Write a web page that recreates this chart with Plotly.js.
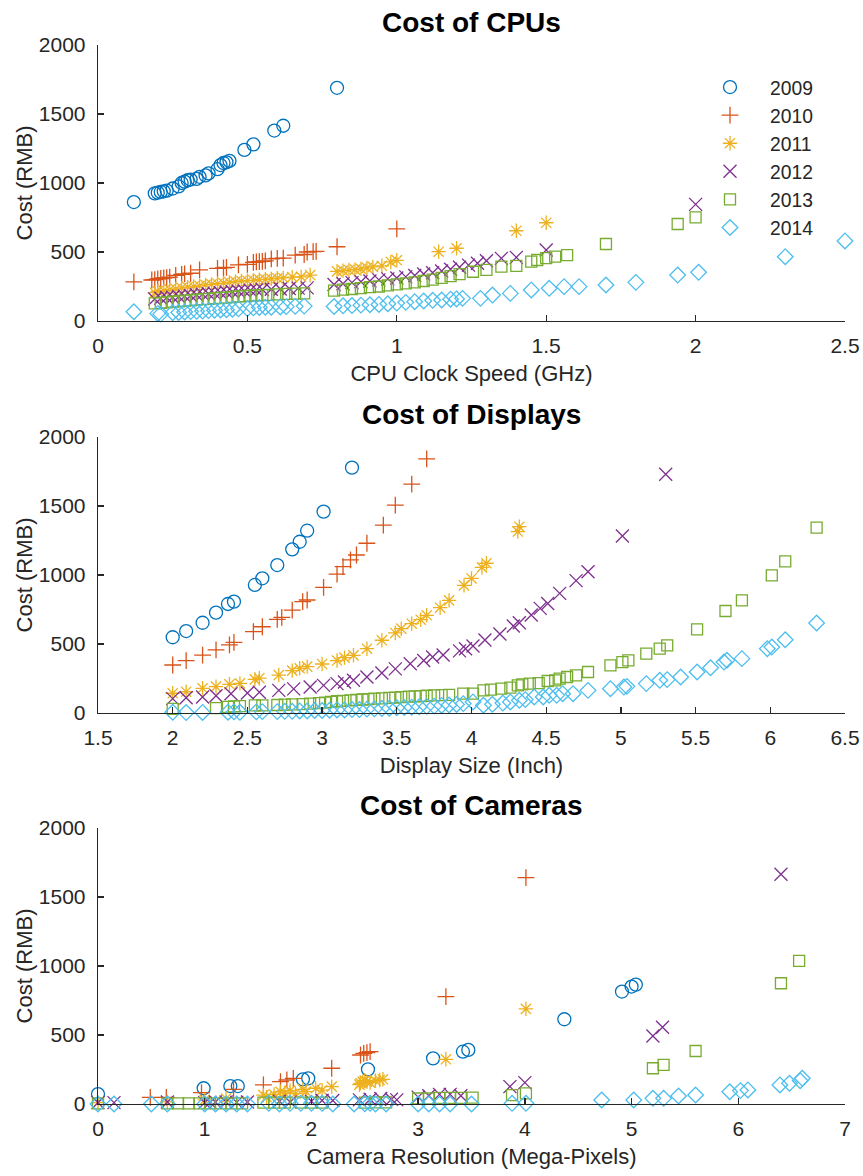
<!DOCTYPE html>
<html>
<head>
<meta charset="utf-8">
<script src="https://cdn.plot.ly/plotly-3.0.1.min.js"></script>
<style>html,body{margin:0;padding:0;background:#fff;}#chart{width:863px;height:1176px;}</style>
</head>
<body>
<div id="chart"></div>
<script>
// ---------- DATA ----------
var years = ["2009","2010","2011","2012","2013","2014"];

var cpuX2009 = [0.12,0.19,0.20,0.21,0.22,0.23,0.25,0.27,0.28,0.29,0.30,0.31,0.33,0.34,0.36,0.37,0.40,0.41,0.42,0.43,0.44,0.49,0.52,0.59,0.62,0.80];
var cpuY2009 = [862,925,930,935,940,945,960,975,1000,1010,1020,1025,1030,1045,1055,1070,1100,1130,1145,1150,1160,1240,1280,1380,1415,1690];
var cpuX2010 = [0.12,0.18,0.19,0.20,0.21,0.22,0.23,0.24,0.26,0.28,0.29,0.31,0.34,0.40,0.42,0.43,0.47,0.50,0.52,0.53,0.54,0.55,0.56,0.58,0.60,0.62,0.66,0.69,0.70,0.72,0.73,0.80,1.00];
var cpuY2010 = [283,297,300,305,308,312,315,318,330,338,342,346,370,382,385,388,406,410,425,428,430,432,435,450,454,456,478,482,500,502,505,538,667];
var cpuX2011 = [0.19,0.20,0.22,0.24,0.26,0.28,0.30,0.32,0.34,0.36,0.38,0.40,0.42,0.44,0.46,0.48,0.50,0.52,0.54,0.56,0.58,0.60,0.62,0.65,0.68,0.71,0.80,0.82,0.84,0.86,0.88,0.90,0.92,0.95,0.98,1.00,1.14,1.20,1.40,1.50];
var cpuY2011 = [205,215,220,228,232,240,245,250,255,262,265,270,275,280,285,290,292,295,300,302,305,310,312,318,320,333,360,365,370,372,378,385,392,400,428,440,502,527,654,712];
var cpuX2012 = [0.19,0.21,0.23,0.25,0.27,0.29,0.31,0.33,0.35,0.37,0.39,0.41,0.43,0.45,0.47,0.49,0.51,0.53,0.55,0.58,0.61,0.64,0.67,0.70,0.79,0.82,0.85,0.88,0.91,0.94,0.97,1.00,1.03,1.06,1.09,1.12,1.15,1.18,1.21,1.24,1.27,1.30,1.35,1.40,1.50,2.00];
var cpuY2012 = [160,165,170,172,178,180,185,190,195,198,200,205,208,212,215,218,222,225,228,230,232,235,238,240,265,270,278,285,290,298,305,312,320,330,340,350,362,375,390,405,418,437,454,461,514,845];
var cpuX2013 = [0.19,0.21,0.23,0.25,0.27,0.29,0.31,0.33,0.35,0.37,0.39,0.41,0.43,0.45,0.47,0.49,0.51,0.53,0.55,0.57,0.60,0.63,0.66,0.69,0.79,0.82,0.85,0.88,0.91,0.94,0.97,1.00,1.03,1.06,1.09,1.12,1.15,1.18,1.21,1.255,1.30,1.35,1.40,1.45,1.47,1.50,1.53,1.57,1.70,1.94,2.00];
var cpuY2013 = [128,132,135,140,143,148,150,155,158,160,165,168,170,175,178,180,183,185,188,190,193,196,198,200,220,228,232,238,245,250,258,265,272,280,290,300,312,325,340,357,370,394,400,430,442,456,466,478,558,703,751];
var cpuX2014 = [0.12,0.20,0.21,0.25,0.27,0.29,0.31,0.33,0.35,0.37,0.39,0.41,0.43,0.45,0.47,0.50,0.52,0.54,0.56,0.58,0.61,0.63,0.66,0.69,0.79,0.82,0.85,0.88,0.91,0.94,0.97,1.00,1.03,1.06,1.09,1.12,1.15,1.18,1.20,1.22,1.28,1.32,1.38,1.45,1.51,1.56,1.61,1.70,1.80,1.94,2.01,2.30,2.50];
var cpuY2014 = [67,55,50,60,62,65,68,70,72,75,78,80,82,85,88,90,95,98,100,100,102,104,106,108,105,110,112,115,118,120,125,130,135,140,145,150,152,158,160,164,164,188,200,225,237,249,249,261,280,333,353,466,580];

var dispX2009 = [2.00,2.09,2.20,2.29,2.37,2.41,2.55,2.60,2.70,2.80,2.85,2.90,3.01,3.20];
var dispY2009 = [549,594,654,727,790,807,928,976,1072,1186,1241,1321,1459,1778];
var dispX2010 = [2.00,2.09,2.20,2.29,2.38,2.41,2.54,2.60,2.70,2.73,2.80,2.87,2.90,3.01,3.10,3.14,3.19,3.23,3.30,3.41,3.49,3.60,3.70];
var dispY2010 = [348,379,420,457,493,512,589,625,679,693,746,807,819,911,1007,1060,1109,1145,1230,1362,1507,1659,1841];
var dispX2011 = [2.00,2.09,2.20,2.29,2.38,2.45,2.55,2.58,2.71,2.80,2.85,2.90,3.00,3.10,3.15,3.21,3.30,3.40,3.49,3.53,3.60,3.66,3.70,3.79,3.85,3.95,4.00,4.07,4.10,4.31,4.32];
var dispY2011 = [143,154,179,191,208,215,244,252,275,307,324,336,355,380,401,418,466,527,580,611,647,676,708,763,816,925,975,1055,1085,1315,1350];
var dispX2012 = [2.00,2.09,2.20,2.29,2.39,2.50,2.58,2.71,2.81,2.92,3.01,3.10,3.15,3.21,3.30,3.40,3.49,3.59,3.68,3.74,3.81,3.92,3.96,4.01,4.09,4.19,4.28,4.32,4.40,4.46,4.51,4.59,4.70,4.78,5.01,5.30];
var dispY2012 = [104,110,116,125,140,145,150,164,175,188,200,213,225,237,261,290,320,357,380,406,420,450,466,485,529,572,630,654,710,758,794,867,959,1024,1283,1730];
var dispX2013 = [2.00,2.29,2.37,2.41,2.45,2.55,2.60,2.70,2.75,2.80,2.87,2.92,2.98,3.02,3.06,3.10,3.14,3.19,3.23,3.27,3.31,3.35,3.40,3.45,3.49,3.53,3.58,3.62,3.66,3.70,3.75,3.80,3.85,3.945,4.01,4.08,4.13,4.20,4.26,4.31,4.34,4.39,4.45,4.51,4.56,4.59,4.64,4.70,4.78,4.93,5.01,5.05,5.17,5.26,5.31,5.51,5.70,5.81,6.01,6.10,6.31];
var dispY2013 = [30,35,45,48,50,55,55,58,60,62,65,68,72,75,80,85,88,92,95,98,100,104,106,110,112,115,118,120,123,125,128,130,132,140,140,164,169,176,184,200,208,213,217,232,237,249,261,273,297,345,369,382,430,466,490,606,739,816,997,1099,1343];
var dispX2014 = [2.00,2.09,2.20,2.37,2.41,2.45,2.56,2.60,2.70,2.75,2.80,2.85,2.90,2.95,3.00,3.05,3.10,3.15,3.20,3.25,3.30,3.35,3.40,3.45,3.50,3.55,3.60,3.65,3.70,3.75,3.80,3.85,3.90,3.945,4.01,4.08,4.14,4.21,4.26,4.32,4.36,4.42,4.48,4.52,4.57,4.61,4.68,4.78,4.93,5.02,5.04,5.17,5.26,5.31,5.40,5.51,5.60,5.69,5.71,5.81,5.98,6.01,6.10,6.31];
var dispY2014 = [5,3,4,6,8,5,8,10,10,12,12,15,15,18,18,20,22,22,25,25,28,30,32,35,38,40,42,45,48,50,55,58,62,68,80,56,63,72,80,92,97,116,116,128,128,140,140,164,176,188,193,213,237,242,261,297,328,369,382,394,466,478,531,652];

var camX2009 = [0.00,0.99,1.24,1.31,1.92,1.97,2.53,3.14,3.42,3.47,4.37,4.91,5.00,5.04];
var camY2009 = [72,114,130,130,179,186,251,331,379,392,614,815,851,865];
var camX2010 = [0.49,0.64,0.97,1.27,1.55,1.71,1.77,1.83,2.19,2.46,2.49,2.52,2.55,3.26,4.01];
var camY2010 = [48,48,82,106,138,162,174,186,259,355,367,372,379,778,1641];
var camX2011 = [0.00,0.65,1.00,1.20,1.55,1.58,1.65,1.71,1.75,1.80,1.85,1.92,1.95,2.04,2.10,2.19,2.45,2.46,2.48,2.50,2.52,2.55,2.60,2.64,2.67,3.26,4.01];
var camY2011 = [10,15,30,40,65,50,70,89,80,97,75,106,90,114,100,126,140,150,160,170,162,155,170,174,179,324,689];
var camX2012 = [0.00,0.15,0.65,1.00,1.05,1.10,1.20,1.30,1.40,1.70,1.80,2.00,2.10,2.20,2.45,2.55,2.65,2.75,2.80,3.00,3.10,3.20,3.30,3.40,3.86,4.00,5.20,5.29,6.40];
var camY2012 = [10,10,15,10,12,15,15,12,15,20,15,20,25,25,30,35,40,35,30,50,60,70,70,60,126,155,493,556,1665];
var camX2013 = [0.00,0.65,0.75,0.85,0.95,1.05,1.15,1.25,1.35,1.55,1.65,1.75,1.90,2.00,2.10,2.50,2.60,2.70,3.00,3.10,3.20,3.30,3.40,3.51,3.88,4.01,5.20,5.30,5.60,6.40,6.57];
var camY2013 = [5,5,5,5,5,5,5,5,5,10,10,10,10,10,10,10,12,12,40,40,45,45,45,46,65,77,259,283,384,875,1037];
var camX2014 = [0.00,0.15,0.50,0.65,1.00,1.10,1.20,1.30,1.40,1.60,1.70,1.80,1.90,2.00,2.10,2.20,2.40,2.50,2.55,2.60,2.70,3.00,3.10,3.20,3.30,3.50,3.88,4.01,4.72,5.02,5.20,5.30,5.44,5.60,5.92,6.02,6.09,6.39,6.48,6.58,6.60];
var camY2014 = [0,0,0,0,0,0,0,0,0,5,0,5,5,5,5,0,0,2,5,0,0,0,0,0,0,0,5,5,29,29,41,41,58,65,89,97,102,138,150,169,186];

var titles = ["Cost of CPUs","Cost of Displays","Cost of Cameras"];
var xTitles = ["CPU Clock Speed (GHz)","Display Size (Inch)","Camera Resolution (Mega-Pixels)"];
var yTitle = "Cost (RMB)";

// ---------- STYLE ----------
var FONT = "Liberation Sans, Arial, Helvetica, sans-serif";
var styles = {
  "2009": {symbol:"circle-open", size:13, color:"#0072BD"},
  "2010": {symbol:"cross-thin-open", size:12, color:"#D95319"},
  "2011": {symbol:"asterisk-open", size:12, color:"#EDB120"},
  "2012": {symbol:"x-thin-open", size:13, color:"#7E2F8E"},
  "2013": {symbol:"square-open", size:11, color:"#77AC30"},
  "2014": {symbol:"diamond-open", size:12, color:"#4DBEEE"}
};

var sets = [
  [[cpuX2009,cpuY2009],[cpuX2010,cpuY2010],[cpuX2011,cpuY2011],[cpuX2012,cpuY2012],[cpuX2013,cpuY2013],[cpuX2014,cpuY2014]],
  [[dispX2009,dispY2009],[dispX2010,dispY2010],[dispX2011,dispY2011],[dispX2012,dispY2012],[dispX2013,dispY2013],[dispX2014,dispY2014]],
  [[camX2009,camY2009],[camX2010,camY2010],[camX2011,camY2011],[camX2012,camY2012],[camX2013,camY2013],[camX2014,camY2014]]
];

var traces = [];
sets.forEach(function(set, p){
  set.forEach(function(xy, i){
    var st = styles[years[i]];
    traces.push({
      type:"scatter", mode:"markers", x:xy[0], y:xy[1],
      name:years[i], showlegend:(p===0),
      xaxis:"x"+(p===0?"":(p+1)), yaxis:"y"+(p===0?"":(p+1)),
      cliponaxis:false,
      marker:{symbol:st.symbol, size:st.size, color:st.color, line:{color:st.color, width:1.3}},
      hoverinfo:"x+y"
    });
  });
});

var W = 863, H = 1176;
var xDom = [98/W, 845/W];
var yDoms = [[1-321/H, 1-45/H],[1-713/H, 1-437/H],[1-1104/H, 1-828/H]];
var xRanges = [[0,2.5],[1.5,6.5],[0,7]];
var xDticks = [0.5,0.5,1];

function axisBase(){
  return {
    showline:true, linecolor:"#262626", linewidth:1.3,
    ticks:"inside", ticklen:6, tickwidth:1.3, tickcolor:"#262626",
    showgrid:false, zeroline:false, mirror:false,
    tickfont:{family:FONT, size:21, color:"#262626"},
    fixedrange:true
  };
}

var layout = {
  width:W, height:H,
  margin:{l:0,r:0,t:0,b:0},
  paper_bgcolor:"#ffffff", plot_bgcolor:"#ffffff",
  font:{family:FONT, color:"#262626"},
  showlegend:true,
  legend:{x:690/W, y:1-68/H, xanchor:"left", yanchor:"top", bgcolor:"rgba(0,0,0,0)",
          font:{family:FONT, size:19.3, color:"#262626"}, itemwidth:70, borderwidth:0, tracegroupgap:0},
  annotations:[]
};

for (var p=0;p<3;p++){
  var sx = p===0?"":(p+1);
  var xa = axisBase();
  xa.domain = xDom; xa.range = xRanges[p]; xa.dtick = xDticks[p]; xa.tick0 = 0;
  xa.anchor = "y"+sx;
  xa.ticklabelstandoff = 5;
  xa.title = {text:xTitles[p], font:{family:FONT, size:22, color:"#262626"}, standoff:10};
  var ya = axisBase();
  ya.domain = yDoms[p]; ya.range = [0,2000]; ya.dtick = 500; ya.tick0 = 0;
  ya.anchor = "x"+sx;
  ya.ticklabelstandoff = 7;
  ya.title = {text:yTitle, font:{family:FONT, size:22, color:"#262626"}, standoff:0};
  layout["xaxis"+sx] = xa;
  layout["yaxis"+sx] = ya;
  layout.annotations.push({
    text:"<b>"+titles[p]+"</b>", xref:"paper", yref:"paper",
    x:(xDom[0]+xDom[1])/2, y:yDoms[p][1], xanchor:"center", yanchor:"bottom", yshift:5,
    showarrow:false, font:{family:FONT, size:28, color:"#000000"}
  });
}

Plotly.newPlot("chart", traces, layout, {staticPlot:true, displayModeBar:false});
</script>
</body>
</html>
